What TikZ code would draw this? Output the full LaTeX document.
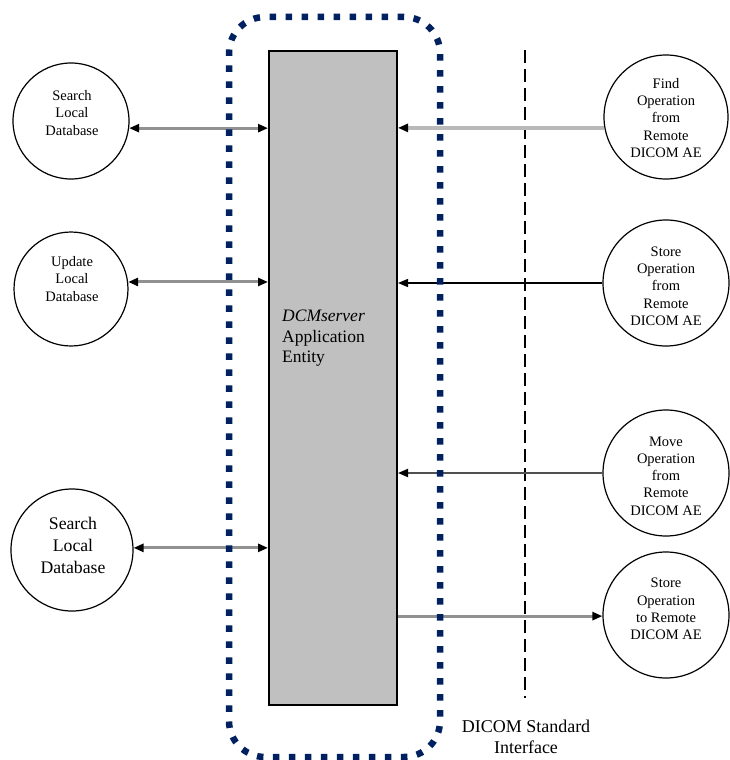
\documentclass[tikz,border=0pt]{standalone}
\usepackage{fontspec}
\setmainfont{Liberation Serif}
\usetikzlibrary{arrows.meta}
\definecolor{framenavy}{RGB}{0,32,96}
\definecolor{aegray}{RGB}{192,192,192}
\definecolor{linkgray}{RGB}{145,145,145}
\definecolor{linklight}{RGB}{185,185,185}
\definecolor{linkdark}{RGB}{80,80,80}
\tikzset{
  bubble/.style={circle, draw=black, line width=1.2pt, inner sep=0pt, fill=white},
  smalltext/.style={align=center, inner sep=0pt, font=\fontsize{14.5}{17.3}\selectfont},
  bigtext/.style={align=center, inner sep=0pt, font=\fontsize{17.7}{22}\selectfont},
  aebox/.style={draw=black, line width=2pt, fill=aegray, inner sep=0pt},
  linkgrey/.style={draw=linkgray, line width=3pt},
  linklite/.style={draw=linklight, line width=3.4pt},
  linkblack/.style={draw=black, line width=1.4pt},
  linkdk/.style={draw=linkdark, line width=1.8pt},
  aeframe/.style={draw=framenavy, line width=6.5pt, dash pattern=on 6.5pt off 9.5pt,
    rounded corners=36pt, inner sep=0pt},
  stdline/.style={draw=black, line width=1.6pt, dash pattern=on 13pt off 6pt}
}
\begin{document}
\begin{tikzpicture}[x=1pt, y=-1pt]
\useasboundingbox (0,0) rectangle (730,760);

% application entity block
\node[aebox, minimum width=128pt, minimum height=654pt] (app) at (333,378) {};
\node[anchor=north west, align=left, inner sep=0pt,
      font=\fontsize{17.5}{20.5}\selectfont] (apptext) at (282,310)
  {\textit{DCMserver}\\Application\\Entity};

% local functions
\node[bubble, minimum size=116pt] (sl1) at (71,121) {};
\node[smalltext] (sl1t) at (72,113) {Search\\Local\\Database};
\node[bubble, minimum size=114pt] (ul) at (71,289) {};
\node[smalltext] (ult) at (72,279) {Update\\Local\\Database};
\node[bubble, minimum size=122pt] (sl2) at (72,550) {};
\node[bigtext] (sl2t) at (73,545) {Search\\Local\\Database};

% remote operations
\node[bubble, minimum size=124pt] (find) at (666,117) {};
\node[smalltext] (findt) at (666,118) {Find\\Operation\\from\\Remote\\DICOM AE};
\node[bubble, minimum size=126pt] (storein) at (666,283) {};
\node[smalltext] (storeint) at (666,286) {Store\\Operation\\from\\Remote\\DICOM AE};
\node[bubble, minimum size=126pt] (move) at (666,473) {};
\node[smalltext] (movet) at (666,476) {Move\\Operation\\from\\Remote\\DICOM AE};
\node[bubble, minimum size=126pt] (storeout) at (666,615) {};
\node[smalltext] (storeoutt) at (666,609) {Store\\Operation\\to Remote\\DICOM AE};

% DICOM interface boundary
\coordinate (ifacetop) at (525,50);
\coordinate (ifacebot) at (525,698);
\draw[stdline] (ifacetop) -- (ifacebot);
\node[align=center, inner sep=0pt, font=\fontsize{18}{21}\selectfont] (ifacelabel)
  at (526,737) {DICOM Standard\\Interface};

% connectors
\draw[linkgrey, {Triangle[length=10pt, width=8pt, color=black]}-{Triangle[length=10pt, width=8pt, color=black]}]
  (sl1.-7) -- (app.west |- sl1.-7);
\draw[linkgrey, {Triangle[length=10pt, width=8pt, color=black]}-{Triangle[length=10pt, width=8pt, color=black]}]
  (ul.7) -- (app.west |- ul.7);
\draw[linkgrey, {Triangle[length=10pt, width=8pt, color=black]}-{Triangle[length=10pt, width=8pt, color=black]}]
  (sl2.2) -- (app.west |- sl2.2);
\draw[linklite, -{Triangle[length=10pt, width=8pt, color=black]}]
  (find.190) -- (app.east |- find.190);
\draw[linkblack, -{Triangle[length=10pt, width=8pt, color=black]}]
  (storein.west) -- (app.east |- storein.west);
\draw[linkdk, -{Triangle[length=10pt, width=8pt, color=black]}]
  (move.west) -- (app.east |- move.west);
\draw[linkgrey, -{Triangle[length=10pt, width=8pt, color=black]}]
  (app.east |- storeout.181) -- (storeout.181);

% application entity boundary
\node[aeframe, minimum width=211pt, minimum height=740pt] (aeframe) at (334.5,387) {};
\end{tikzpicture}
\end{document}
